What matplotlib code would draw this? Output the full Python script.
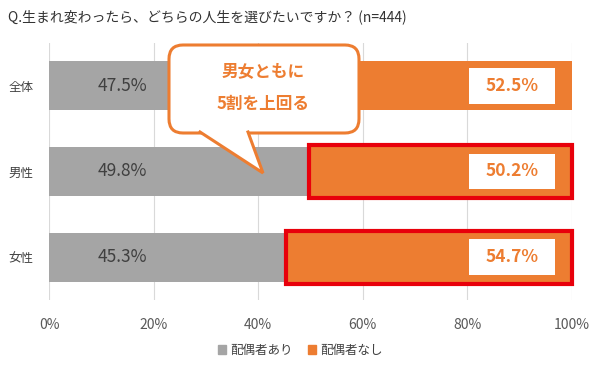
import matplotlib
matplotlib.use('Agg')
import matplotlib.pyplot as plt
from matplotlib.patches import FancyBboxPatch, Polygon, Rectangle

plt.rcParams['font.family'] = ['Noto Sans CJK JP', 'DejaVu Sans']

categories = ['全体', '男性', '女性']
with_spouse = [47.5, 49.8, 45.3]
without_spouse = [52.5, 50.2, 54.7]
highlighted = ['男性', '女性']
title = 'Q.生まれ変わったら、どちらの人生を選びたいですか？ (n=444)'
callout_lines = ['男女ともに', '5割を上回る']

gray = '#A5A5A5'
orange = '#ED7D31'

fig = plt.figure(figsize=(6, 3.65), dpi=100)
ax = fig.add_axes([49 / 600, 1 - 300 / 365, 523 / 600, 257 / 365])

y = list(range(len(categories)))
ax.barh(y, with_spouse, height=0.57, color=gray, zorder=2)
ax.barh(y, without_spouse, left=with_spouse, height=0.57, color=orange, zorder=2)

for i, cat in enumerate(categories):
    ax.text(14, i, f'{with_spouse[i]:.1f}%', ha='center', va='center',
            fontsize=12.5, color='#404040', zorder=4)
    # white label box behind the orange value
    ax.add_patch(Rectangle((80.3, i - 0.21), 16.4, 0.42, fc='white', ec='none',
                           zorder=3))
    ax.text(88.6, i, f'{without_spouse[i]:.1f}%', ha='center', va='center',
            fontsize=12.5, color=orange, fontweight='bold', zorder=4)
    if cat in highlighted:
        ax.add_patch(Rectangle((with_spouse[i], i - 0.31), without_spouse[i], 0.62,
                               fill=False, ec='#E8000B', lw=3, zorder=5,
                               clip_on=False))

ax.set_xlim(0, 100)
ax.set_ylim(2.5, -0.5)
ax.set_xticks(range(0, 101, 20))
ax.set_xticklabels([f'{v}%' for v in range(0, 101, 20)])
ax.set_yticks(y)
ax.set_yticklabels(categories)
ax.tick_params(axis='x', length=0, labelsize=10, labelcolor='#595959', pad=13)
ax.tick_params(axis='y', length=0, labelsize=9, labelcolor='#404040', pad=11)
ax.grid(axis='x', color='#D9D9D9', lw=0.8, zorder=0)
for s in ax.spines.values():
    s.set_visible(False)

fig.text(8 / 600, 1 - 17 / 365, title, fontsize=10, color='#333333',
         ha='left', va='center')

h1 = Rectangle((0, 0), 1, 1, color=gray)
h2 = Rectangle((0, 0), 1, 1, color=orange)
fig.legend([h1, h2], ['配偶者あり', '配偶者なし'], loc='center',
           bbox_to_anchor=(0.5, 1 - 350 / 365), ncol=2, frameon=False,
           fontsize=9, handlelength=0.7, handleheight=0.7, handletextpad=0.3,
           columnspacing=1.2, labelcolor='#404040')

# callout in pixel coordinates
ov = fig.add_axes([0, 0, 1, 1])
ov.set_xlim(0, 600)
ov.set_ylim(365, 0)
ov.axis('off')
ov.add_patch(FancyBboxPatch((169, 45), 190, 88,
                            boxstyle='round,pad=0,rounding_size=14',
                            fc='white', ec=orange, lw=2.2, zorder=5))
ov.add_patch(Polygon([(200, 131), (263, 173), (248, 131)], closed=True,
                     fc='white', ec='none', zorder=6))
ov.plot([200, 263, 248], [132, 173, 132], color=orange, lw=2.2, zorder=7,
        solid_joinstyle='miter')
ov.text(263, 71, callout_lines[0], ha='center', va='center', fontsize=12,
        color=orange, fontweight='bold', zorder=8)
ov.text(263, 104, callout_lines[1], ha='center', va='center', fontsize=12,
        color=orange, fontweight='bold', zorder=8)

fig.savefig('out.png', dpi=100)
